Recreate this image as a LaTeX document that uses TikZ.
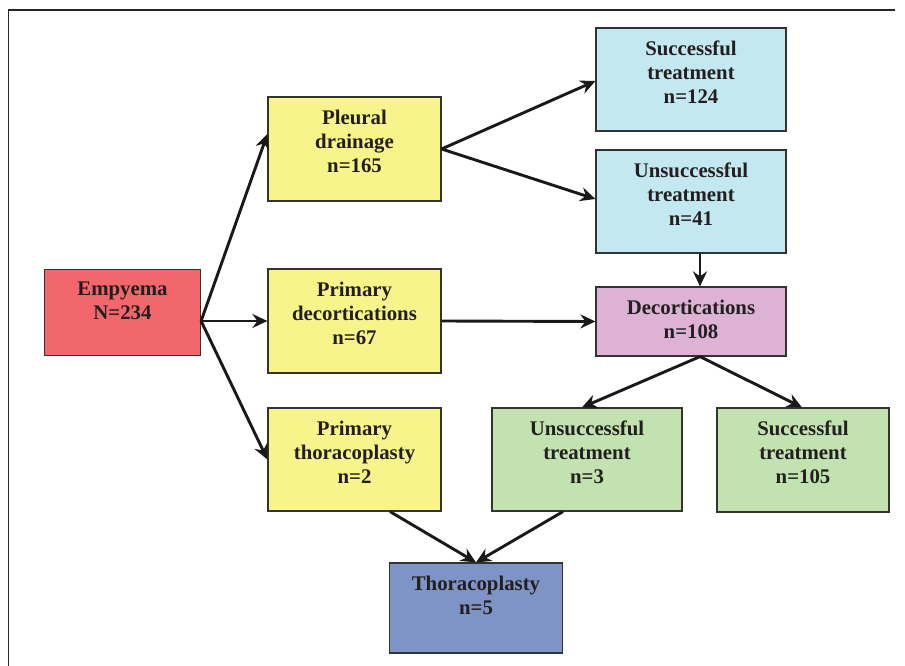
\documentclass[tikz,border=0pt]{standalone}
\usepackage{fontspec}
\setmainfont{Liberation Serif}
\usetikzlibrary{arrows.meta}
\definecolor{txtc}{HTML}{231F20}
\definecolor{edgec}{HTML}{333333}
\definecolor{redf}{HTML}{F2676B}
\definecolor{yelf}{HTML}{F8F48C}
\definecolor{bluf}{HTML}{C4E8EF}
\definecolor{pinf}{HTML}{DEB2D5}
\definecolor{grnf}{HTML}{C2E2B0}
\definecolor{dbluf}{HTML}{7F94C6}
\tikzset{
  boxnode/.style={draw=edgec, line width=1.2pt, inner sep=0pt},
  lbl/.style={text=txtc, font=\bfseries\fontsize{20.8}{24}\selectfont, align=center, inner sep=0pt, anchor=base},
  arr/.style={draw=black!90, line width=2.9pt, -{Stealth[length=15pt,width=14pt,inset=5pt]}}
}
\begin{document}
\begin{tikzpicture}[x=1pt,y=-1pt]
\useasboundingbox (0,0) rectangle (905,666);
\draw[line width=1.2pt, draw=black!85] (8.5,666) -- (8.5,10) -- (895,10);
% boxes
\node[boxnode, fill=redf, minimum width=156pt, minimum height=86pt] (emp) at (122.5,312.5) {};
\node[boxnode, fill=yelf, minimum width=173pt, minimum height=104pt] (pd) at (354.5,149) {};
\node[boxnode, fill=yelf, minimum width=173pt, minimum height=104pt] (pdec) at (354.5,321) {};
\node[boxnode, fill=yelf, minimum width=173pt, minimum height=103pt] (pth) at (354.5,459.5) {};
\node[boxnode, fill=bluf, minimum width=190pt, minimum height=103pt] (s124) at (691,79.5) {};
\node[boxnode, fill=bluf, minimum width=190pt, minimum height=103pt] (u41) at (691,201.5) {};
\node[boxnode, fill=pinf, minimum width=190pt, minimum height=69pt] (dec) at (691,321.5) {};
\node[boxnode, fill=grnf, minimum width=190pt, minimum height=103pt] (u3) at (587,459.5) {};
\node[boxnode, fill=grnf, minimum width=172pt, minimum height=104pt] (s105) at (803,460) {};
\node[boxnode, fill=dbluf, minimum width=173pt, minimum height=90pt] (th) at (476,608) {};
% texts
\node[lbl, text width=156pt] (empt) at ([yshift=-27pt]emp.north) {Empyema\\N=234};
\node[lbl, text width=173pt] (pdt) at ([yshift=-28pt]pd.north) {Pleural\\drainage\\n=165};
\node[lbl, text width=173pt] (pdect) at ([yshift=-28pt]pdec.north) {Primary\\decortications\\n=67};
\node[lbl, text width=173pt] (ptht) at ([yshift=-28pt]pth.north) {Primary\\thoracoplasty\\n=2};
\node[lbl, text width=190pt] (s124t) at ([yshift=-28pt]s124.north) {Successful\\treatment\\n=124};
\node[lbl, text width=190pt] (u41t) at ([yshift=-28pt]u41.north) {Unsuccessful\\treatment\\n=41};
\node[lbl, text width=190pt] (dect) at ([yshift=-28pt]dec.north) {Decortications\\n=108};
\node[lbl, text width=190pt] (u3t) at ([yshift=-28pt]u3.north) {Unsuccessful\\treatment\\n=3};
\node[lbl, text width=172pt] (s105t) at ([yshift=-28pt]s105.north) {Successful\\treatment\\n=105};
\node[lbl, text width=173pt] (tht) at ([yshift=-28pt]th.north) {Thoracoplasty\\n=5};
% arrows
\coordinate (eo) at ([yshift=-8.5pt]emp.east);
\draw[arr] (eo) -- ([yshift=15pt]pd.west);
\draw[arr] (eo) -- (pdec.west);
\draw[arr] (eo) -- (pth.west);
\draw[arr] (pd.east) -- ([yshift=-1.5pt]s124.west);
\draw[arr] (pd.east) -- ([yshift=2.5pt]u41.west);
\draw[arr] (pdec.east) -- (dec.west);
\draw[arr] ([xshift=9pt]u41.south) -- ([xshift=9pt]dec.north);
\coordinate (db) at ([xshift=9pt]dec.south);
\draw[arr] (db) -- ([xshift=-5pt]u3.north);
\draw[arr] (db) -- ([xshift=-1pt]s105.north);
\draw[arr] ([xshift=35.5pt]pth.south) -- (th.north);
\draw[arr] ([xshift=-24pt]u3.south) -- (th.north);
\end{tikzpicture}
\end{document}
